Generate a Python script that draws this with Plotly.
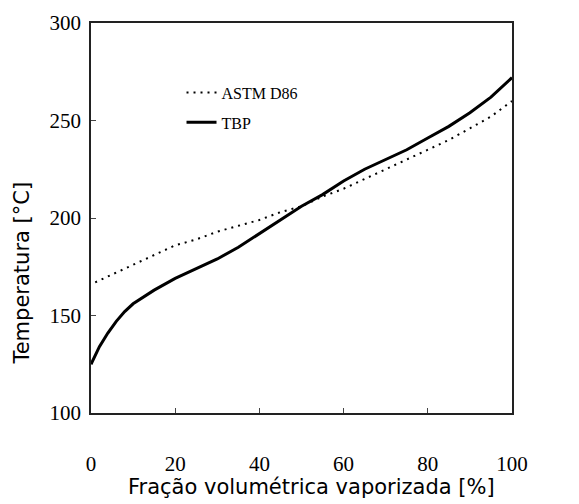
import plotly.graph_objects as go

# Fração volumétrica vaporizada (%) e temperaturas (°C)
frac_astm = [1, 5, 10, 15, 20, 25, 30, 35, 40, 45, 50, 55, 60, 65, 70, 75, 80, 85, 90, 95, 100]
temp_astm = [167, 171, 176, 181, 186, 189, 193, 196, 199, 203, 206, 211, 215, 220, 225, 230, 235, 240, 246, 252, 260]

frac_tbp = [0, 2, 4, 6, 8, 10, 15, 20, 25, 30, 35, 40, 45, 50, 55, 60, 65, 70, 75, 80, 85, 90, 95, 100]
temp_tbp = [125, 134, 141, 147, 152, 156, 163, 169, 174, 179, 185, 192, 199, 206, 212, 219, 225, 230, 235, 241, 247, 254, 262, 272]

x_ticks = [0, 20, 40, 60, 80, 100]
y_ticks = [100, 150, 200, 250, 300]

x_title = "Fração volumétrica vaporizada [%]"
y_title = "Temperatura [°C]"

serif = "Liberation Serif, Times New Roman, serif"
sans = "DejaVu Sans, Verdana, sans-serif"

fig = go.Figure()
fig.add_trace(go.Scatter(
    x=frac_astm, y=temp_astm, mode="lines", name="ASTM D86",
    legendgroup="a", line=dict(color="black", width=2, dash="2px,5px"),
))
fig.add_trace(go.Scatter(
    x=frac_tbp, y=temp_tbp, mode="lines", name="TBP",
    legendgroup="b", line=dict(color="black", width=3),
))

# axis titles placed as paper-anchored text
fig.add_annotation(text=x_title, xref="paper", yref="paper", x=0.523, y=-0.19,
                   xanchor="center", yanchor="middle", showarrow=False,
                   font=dict(family=sans, size=21, color="black"))
fig.add_annotation(text=y_title, xref="paper", yref="paper", x=-0.164, y=0.36,
                   xanchor="center", yanchor="middle", showarrow=False, textangle=-90,
                   font=dict(family=sans, size=21, color="black"))

fig.update_layout(
    width=579, height=504,
    margin=dict(l=91, r=67, t=23, b=91),
    paper_bgcolor="white", plot_bgcolor="white",
    showlegend=True,
    legend=dict(
        x=0.215, y=0.865, xanchor="left", yanchor="top",
        bgcolor="rgba(0,0,0,0)", borderwidth=0,
        font=dict(family=serif, size=16, color="black"),
        tracegroupgap=6, traceorder="grouped",
    ),
    xaxis=dict(
        range=[0, 100], tickvals=x_ticks, ticks="inside", ticklen=5,
        showline=True, linecolor="#222", linewidth=1.5, mirror=True,
        showgrid=False, zeroline=False, ticklabelstandoff=31, automargin=False,
        tickfont=dict(family=serif, size=21, color="black"),
    ),
    yaxis=dict(
        range=[100, 300], tickvals=y_ticks, ticks="inside", ticklen=5,
        showline=True, linecolor="#222", linewidth=1.5, mirror=True,
        showgrid=False, zeroline=False, ticklabelstandoff=4, automargin=False,
        tickfont=dict(family=serif, size=21, color="black"),
    ),
)

fig.write_html("out.html")
